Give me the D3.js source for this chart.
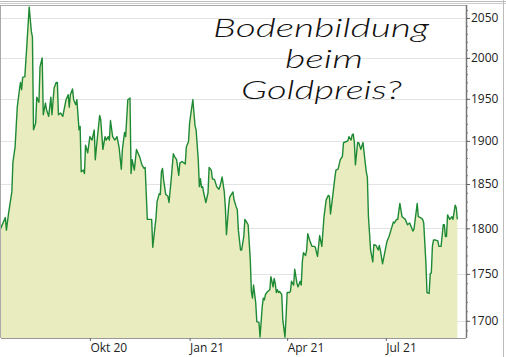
<!DOCTYPE html>
<html>
<head>
<meta charset="utf-8">
<script src="https://cdn.jsdelivr.net/npm/d3@7"></script>
<style>
  body { margin: 0; background: #fff; }
  svg { display: block; }
  .tick text { font-family: "Open Sans", "Noto Sans", sans-serif; font-size: 12px; fill: #222; }
</style>
</head>
<body>
<div id="chart"></div>
<script>
// gold price, USD per ounce
const dates = [
  "2020-07-10","2020-07-15","2020-07-16","2020-07-18","2020-07-21","2020-07-22","2020-07-24","2020-07-26","2020-07-28","2020-07-29",
  "2020-07-30","2020-07-31","2020-08-02","2020-08-04","2020-08-06","2020-08-08","2020-08-09","2020-08-10","2020-08-12","2020-08-13",
  "2020-08-15","2020-08-16","2020-08-18","2020-08-19","2020-08-21","2020-08-22","2020-08-24","2020-08-26","2020-08-27","2020-08-29",
  "2020-08-31","2020-09-01","2020-09-02","2020-09-04","2020-09-06","2020-09-09","2020-09-11","2020-09-12","2020-09-13","2020-09-15",
  "2020-09-16","2020-09-18","2020-09-19","2020-09-21","2020-09-22","2020-09-23","2020-09-25","2020-09-26","2020-09-27","2020-09-29",
  "2020-10-01","2020-10-03","2020-10-05","2020-10-06","2020-10-07","2020-10-10","2020-10-11","2020-10-13","2020-10-15","2020-10-16",
  "2020-10-18","2020-10-19","2020-10-20","2020-10-22","2020-10-24","2020-10-26","2020-10-28","2020-10-30","2020-10-31","2020-11-02",
  "2020-11-03","2020-11-05","2020-11-07","2020-11-08","2020-11-09","2020-11-11","2020-11-12","2020-11-13","2020-11-16","2020-11-18",
  "2020-11-20","2020-11-21","2020-11-23","2020-11-25","2020-11-27","2020-11-28","2020-12-01","2020-12-02","2020-12-04","2020-12-05",
  "2020-12-06","2020-12-07","2020-12-08","2020-12-10","2020-12-12","2020-12-13","2020-12-15","2020-12-17","2020-12-18","2020-12-20",
  "2020-12-22","2020-12-23","2020-12-25","2020-12-27","2020-12-28","2020-12-29","2020-12-31","2021-01-01","2021-01-03","2021-01-04",
  "2021-01-06","2021-01-07","2021-01-09","2021-01-10","2021-01-11","2021-01-12","2021-01-13","2021-01-14","2021-01-16","2021-01-18",
  "2021-01-19","2021-01-21","2021-01-22","2021-01-24","2021-01-26","2021-01-28","2021-01-29","2021-01-31","2021-02-02","2021-02-03",
  "2021-02-04","2021-02-06","2021-02-07","2021-02-10","2021-02-11","2021-02-13","2021-02-14","2021-02-15","2021-02-17","2021-02-18",
  "2021-02-20","2021-02-21","2021-02-23","2021-02-24","2021-02-26","2021-02-27","2021-02-28","2021-03-01","2021-03-03","2021-03-04",
  "2021-03-06","2021-03-07","2021-03-09","2021-03-10","2021-03-11","2021-03-12","2021-03-14","2021-03-16","2021-03-17","2021-03-19",
  "2021-03-20","2021-03-21","2021-03-22","2021-03-23","2021-03-24","2021-03-25","2021-03-27","2021-03-28","2021-03-30","2021-03-31",
  "2021-04-01","2021-04-03","2021-04-04","2021-04-05","2021-04-07","2021-04-08","2021-04-10","2021-04-11","2021-04-13","2021-04-14",
  "2021-04-15","2021-04-16","2021-04-18","2021-04-19","2021-04-20","2021-04-22","2021-04-24","2021-04-26","2021-04-27","2021-04-29",
  "2021-05-01","2021-05-03","2021-05-05","2021-05-07","2021-05-09","2021-05-10","2021-05-11","2021-05-13","2021-05-15","2021-05-16",
  "2021-05-18","2021-05-20","2021-05-22","2021-05-23","2021-05-25","2021-05-27","2021-05-28","2021-05-30","2021-05-31","2021-06-01",
  "2021-06-02","2021-06-03","2021-06-05","2021-06-06","2021-06-08","2021-06-10","2021-06-11","2021-06-13","2021-06-14","2021-06-15",
  "2021-06-17","2021-06-19","2021-06-20","2021-06-22","2021-06-24","2021-06-25","2021-06-26","2021-06-28","2021-06-30","2021-07-02",
  "2021-07-04","2021-07-07","2021-07-08","2021-07-09","2021-07-11","2021-07-12","2021-07-14","2021-07-16","2021-07-17","2021-07-19",
  "2021-07-21","2021-07-23","2021-07-26","2021-07-27","2021-07-30","2021-07-31","2021-08-02","2021-08-04","2021-08-05","2021-08-07",
  "2021-08-08","2021-08-10","2021-08-11","2021-08-12","2021-08-13","2021-08-14","2021-08-16","2021-08-18","2021-08-19","2021-08-21",
  "2021-08-23","2021-08-24","2021-08-25","2021-08-26","2021-08-27","2021-08-29","2021-08-31","2021-09-01","2021-09-03","2021-09-04",
  "2021-09-05"
];
const prices = [
  1798,1812,1798,1817,1841,1875,1893,1940,1961,1970,
  1961,1976,1977,2019,2064,2033,2026,1913,1921,1952,
  1946,1989,2000,1931,1945,1937,1929,1952,1931,1963,
  1970,1970,1931,1933,1929,1949,1955,1940,1955,1962,
  1949,1943,1949,1913,1917,1864,1866,1862,1895,1886,
  1905,1901,1913,1878,1892,1930,1925,1890,1905,1901,
  1905,1901,1924,1905,1901,1905,1892,1867,1890,1910,
  1905,1949,1951,1862,1878,1866,1878,1890,1881,1872,
  1868,1869,1810,1810,1810,1779,1812,1830,1839,1838,
  1864,1868,1855,1838,1836,1829,1855,1885,1882,1878,
  1860,1874,1876,1874,1873,1893,1899,1921,1940,1949,
  1918,1913,1878,1847,1856,1846,1847,1840,1829,1840,
  1869,1866,1856,1855,1847,1844,1847,1858,1841,1823,
  1793,1824,1835,1841,1832,1824,1821,1798,1776,1776,
  1791,1810,1806,1804,1765,1731,1724,1738,1719,1699,
  1698,1683,1715,1724,1722,1728,1731,1733,1747,1736,
  1745,1740,1730,1733,1730,1731,1728,1701,1683,1704,
  1730,1730,1731,1742,1738,1755,1740,1736,1742,1738,
  1763,1773,1770,1776,1794,1786,1780,1780,1779,1769,
  1792,1780,1813,1832,1837,1836,1816,1836,1857,1866,
  1867,1878,1882,1898,1899,1900,1905,1901,1907,1908,
  1898,1872,1898,1898,1890,1898,1886,1864,1858,1813,
  1776,1763,1782,1781,1776,1781,1776,1761,1773,1785,
  1791,1803,1807,1806,1810,1810,1828,1813,1812,1810,
  1804,1806,1797,1799,1828,1813,1812,1810,1806,1762,
  1730,1729,1750,1751,1780,1787,1787,1786,1780,1780,
  1804,1804,1791,1791,1815,1810,1813,1810,1826,1823,
  1810
];
const xTickDates = ["2020-10-01", "2021-01-01", "2021-04-01", "2021-07-01"];
const xTickLabels = ["Okt 20", "Jan 21", "Apr 21", "Jul 21"];
const yTicks = [1700, 1750, 1800, 1850, 1900, 1950, 2000, 2050];
const titleLines = ["Bodenbildung", "beim", "Goldpreis?"];

const width = 506, height = 357;
const plotLeft = 1, plotRight = 466, plotTop = 5, plotBottom = 338;
const parse = d3.timeParse("%Y-%m-%d");
const data = dates.map((d, i) => ({ date: parse(d), value: prices[i] }));

const svg = d3.select("#chart").append("svg")
    .attr("width", width)
    .attr("height", height);

// outer frame lines
svg.append("line").attr("x1", 0).attr("x2", width).attr("y1", 1.5).attr("y2", 1.5).attr("stroke", "#bbb");
svg.append("line").attr("x1", 0).attr("x2", width).attr("y1", 3.5).attr("y2", 3.5).attr("stroke", "#ccc");
svg.append("line").attr("x1", 503.5).attr("x2", 503.5).attr("y1", 0).attr("y2", height).attr("stroke", "#bbb");

const x = d3.scaleTime()
    .domain([parse("2020-07-11"), parse("2021-09-13")])
    .range([plotLeft, plotRight]);
const y = d3.scaleLog()
    .domain([1682, 2066.5])
    .range([plotBottom, plotTop]);

svg.append("defs").append("clipPath").attr("id", "plot")
  .append("rect").attr("x", plotLeft).attr("y", plotTop)
    .attr("width", plotRight - plotLeft).attr("height", plotBottom - plotTop);

// grid
svg.append("g").selectAll("line")
  .data(yTicks)
  .join("line")
    .attr("x1", plotLeft).attr("x2", plotRight)
    .attr("y1", d => Math.round(y(d)) + 0.5).attr("y2", d => Math.round(y(d)) + 0.5)
    .attr("stroke", "#e3e3e3");

const area = d3.area()
    .x(d => x(d.date))
    .y0(plotBottom)
    .y1(d => y(d.value));
const line = d3.line()
    .x(d => x(d.date))
    .y(d => y(d.value));

const plot = svg.append("g").attr("clip-path", "url(#plot)");
plot.append("path").datum(data)
    .attr("d", area)
    .attr("fill", "#e9ecbf");
plot.append("path").datum(data)
    .attr("d", line)
    .attr("fill", "none")
    .attr("stroke", "#1e8a34")
    .attr("stroke-width", 1.4)
    .attr("stroke-linejoin", "round");

// plot frame
svg.append("line").attr("x1", plotLeft).attr("x2", plotRight)
    .attr("y1", plotTop + 0.5).attr("y2", plotTop + 0.5).attr("stroke", "#aaa");
svg.append("line").attr("x1", 0.5).attr("x2", 0.5)
    .attr("y1", plotTop).attr("y2", plotBottom).attr("stroke", "#aaa");

// x axis
const xAxis = svg.append("g")
    .attr("transform", `translate(0,${plotBottom})`)
    .call(d3.axisBottom(x)
      .tickValues(xTickDates.map(parse))
      .tickFormat((d, i) => xTickLabels[i])
      .tickSize(3)
      .tickPadding(2));
xAxis.select(".domain").attr("stroke", "#999").attr("d", `M${plotLeft},0.5H${plotRight}`);
xAxis.selectAll(".tick line").attr("stroke", "#666");
xAxis.selectAll(".tick text").attr("text-anchor", "start").attr("x", 0);

// y axis on the right, with minor ticks
const minor = svg.append("g")
    .attr("transform", `translate(${plotRight},0)`)
    .call(d3.axisRight(y).tickValues(d3.range(1690, 2061, 10)).tickSize(2).tickFormat(""));
minor.select(".domain").remove();
minor.selectAll(".tick line").attr("stroke", "#777");

const yAxis = svg.append("g")
    .attr("transform", `translate(${plotRight},0)`)
    .call(d3.axisRight(y).tickValues(yTicks).tickFormat(d3.format("d")).tickSize(4).tickPadding(1));
yAxis.select(".domain").attr("stroke", "#777").attr("stroke-width", 1.5).attr("d", `M0.5,${plotTop}V${plotBottom}`);
yAxis.selectAll(".tick line").attr("stroke", "#666");

// handwritten-style title, one text per line
const titleX = [213, 285, 241];
const titleW = [216, 78, 161];
const titleBaselines = [37, 68, 99];
svg.append("g").selectAll("text")
  .data(titleLines)
  .join("text")
    .attr("x", (d, i) => titleX[i])
    .attr("y", (d, i) => titleBaselines[i])
    .attr("textLength", (d, i) => titleW[i])
    .attr("lengthAdjust", "spacingAndGlyphs")
    .attr("font-family", "Lato, sans-serif")
    .attr("font-style", "italic")
    .attr("font-weight", 300)
    .attr("font-size", 25)
    .attr("fill", "#111")
    .text(d => d);
</script>
</body>
</html>
